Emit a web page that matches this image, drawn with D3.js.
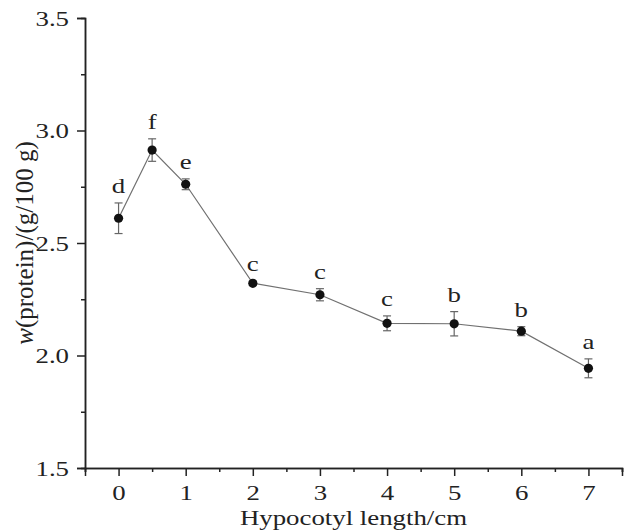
<!DOCTYPE html>
<html>
<head>
<meta charset="utf-8">
<script src="https://cdn.jsdelivr.net/npm/d3@7"></script>
<style>
    body { margin: 0; background: #fff; }
</style>
</head>
<body>
<div id="root"></div>
<script>
// values
let lengths = [0, 0.5, 1, 2, 3, 4, 5, 6, 7];
let protein = [2.61, 2.913, 2.761, 2.321, 2.27, 2.143, 2.141, 2.108, 1.943];
let errors = [0.068, 0.05, 0.024, 0.01, 0.027, 0.033, 0.054, 0.02, 0.042];
let letters = ['d', 'f', 'e', 'c', 'c', 'c', 'b', 'b', 'a'];

let xTicks = [0, 1, 2, 3, 4, 5, 6, 7];
let xMinorTicks = [-0.5, 0.5, 1.5, 2.5, 3.5, 4.5, 5.5, 6.5, 7.5];
let yTicks = [1.5, 2.0, 2.5, 3.0, 3.5];
let yMinorTicks = [1.75, 2.25, 2.75, 3.25];

let points = lengths.map((l, i) => ({
    x: l,
    y: protein[i],
    err: errors[i],
    letter: letters[i]
}));

let width = 627;
let height = 530;
let font = '"Liberation Serif", "Times New Roman", Times, serif';
let fontSize = 22;
// the figure's lettering is a little wider than plain Times
let stretch = 1.22;

let x = d3.scaleLinear().domain([-0.5, 7.5]).range([85, 622]);
let y = d3.scaleLinear().domain([1.5, 3.5]).range([468, 18]);

function render() {
    let svg = d3.select('#root')
        .append('svg')
        .attr('width', width)
        .attr('height', height)
        .attr('font-family', font);

    // axes
    let xAxis = svg.append('g')
        .attr('transform', `translate(0,${y(1.5)})`)
        .call(d3.axisBottom(x).tickValues(xTicks).tickSize(8).tickFormat(d3.format('d')));
    svg.append('g')
        .attr('transform', `translate(0,${y(1.5)})`)
        .call(d3.axisBottom(x).tickValues(xMinorTicks).tickSize(4).tickFormat(''));

    let yAxis = svg.append('g')
        .attr('transform', `translate(${x(-0.5)},0)`)
        .call(d3.axisLeft(y).tickValues(yTicks).tickSize(8).tickFormat(d3.format('.1f')));
    svg.append('g')
        .attr('transform', `translate(${x(-0.5)},0)`)
        .call(d3.axisLeft(y).tickValues(yMinorTicks).tickSize(4).tickFormat(''));

    svg.selectAll('g').attr('font-family', font);
    svg.selectAll('.domain').attr('stroke', '#222').attr('stroke-width', 1.5);
    svg.selectAll('.tick line').attr('stroke', '#222').attr('stroke-width', 1.5);
    svg.selectAll('.tick text')
        .attr('font-size', fontSize)
        .attr('font-family', font)
        .attr('fill', '#222');

    xAxis.selectAll('.tick text')
        .attr('transform', `translate(0,16) scale(${stretch},1)`)
        .attr('y', 0);
    yAxis.selectAll('.tick text')
        .attr('transform', `translate(-16,0) scale(${stretch},1)`)
        .attr('x', 0);

    // axis titles
    svg.append('text')
        .attr('transform', `translate(${(x.range()[0] + x.range()[1]) / 2},525) scale(${stretch},1)`)
        .attr('text-anchor', 'middle')
        .attr('font-family', font)
        .attr('font-size', fontSize)
        .attr('fill', '#222')
        .text('Hypocotyl length/cm');

    let yTitle = svg.append('text')
        .attr('transform', `translate(33,${(y.range()[0] + y.range()[1]) / 2}) rotate(-90)`)
        .attr('text-anchor', 'middle')
        .attr('font-family', font)
        .attr('font-size', 25)
        .attr('fill', '#222');
    yTitle.append('tspan').attr('font-style', 'italic').text('w');
    yTitle.append('tspan').text('(protein)/(g/100 g)');

    // connecting line
    svg.append('path')
        .datum(points)
        .attr('fill', 'none')
        .attr('stroke', '#707070')
        .attr('stroke-width', 1.2)
        .attr('d', d3.line().x(d => x(d.x)).y(d => y(d.y)));

    // error bars
    let bars = svg.append('g')
        .attr('stroke', '#666')
        .attr('stroke-width', 1.2)
        .selectAll('g')
        .data(points)
        .join('g');
    bars.append('line')
        .attr('x1', d => x(d.x)).attr('x2', d => x(d.x))
        .attr('y1', d => y(d.y - d.err)).attr('y2', d => y(d.y + d.err));
    bars.append('line')
        .attr('x1', d => x(d.x) - 4).attr('x2', d => x(d.x) + 4)
        .attr('y1', d => y(d.y + d.err)).attr('y2', d => y(d.y + d.err));
    bars.append('line')
        .attr('x1', d => x(d.x) - 4).attr('x2', d => x(d.x) + 4)
        .attr('y1', d => y(d.y - d.err)).attr('y2', d => y(d.y - d.err));

    // markers
    svg.append('g')
        .selectAll('circle')
        .data(points)
        .join('circle')
        .attr('cx', d => x(d.x))
        .attr('cy', d => y(d.y))
        .attr('r', 4.6)
        .attr('fill', '#111');

    // significance letters
    svg.append('g')
        .selectAll('text')
        .data(points)
        .join('text')
        .attr('transform', d => `translate(${x(d.x)},${y(d.y + d.err) - 10}) scale(${stretch},1)`)
        .attr('text-anchor', 'middle')
        .attr('font-family', font)
        .attr('font-size', fontSize)
        .attr('fill', '#222')
        .text(d => d.letter);
}

render();
</script>
</body>
</html>
